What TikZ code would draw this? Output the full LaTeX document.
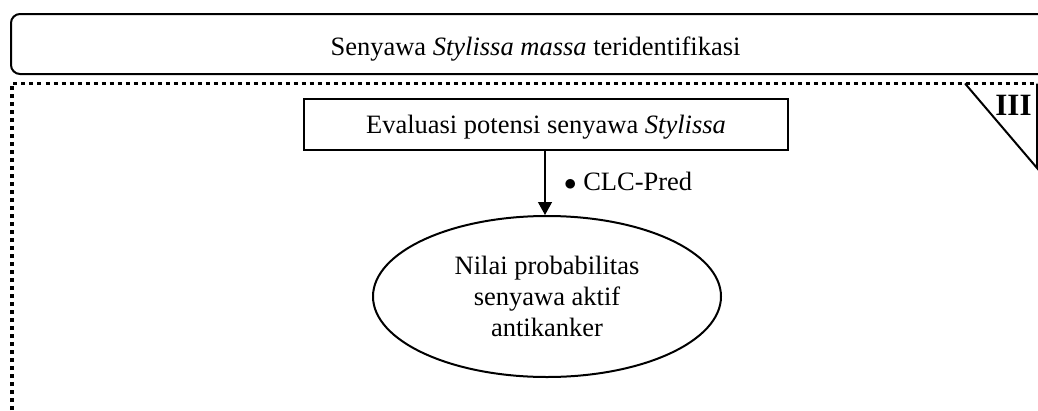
\documentclass[tikz,border=0pt]{standalone}
\usepackage{fontspec}
\setmainfont{Liberation Serif}
\usetikzlibrary{arrows.meta,shapes.geometric}

\tikzset{
  txt/.style={font=\fontsize{26.5}{31}\selectfont},
  headbox/.style={draw, line width=2pt, rounded corners=9pt, inner sep=0pt,
    minimum width=1049pt, minimum height=60pt, txt, text height=24pt, text depth=2pt},
  stepbox/.style={draw, line width=2.2pt, inner sep=0pt,
    minimum width=484pt, minimum height=51pt, txt, text height=20pt, text depth=3pt},
  resultell/.style={draw, ellipse, line width=2pt, inner sep=0pt,
    minimum width=348pt, minimum height=161pt, txt, align=center},
  frame/.style={line width=3.5pt, dash pattern=on 4pt off 4pt},
  flow/.style={line width=1.2pt, -{Triangle[length=13pt,width=14pt]}},
  tag/.style={font=\fontsize{31}{36}\selectfont\bfseries, inner sep=0pt},
}

\begin{document}
\begin{tikzpicture}[x=1pt,y=-1pt]
  \useasboundingbox (0,0) rectangle (1038,410);
  \clip (0,0) rectangle (1038,410);

  % stage frame (dotted) and its corner marker
  \draw[frame] (12,410) -- (12,83.5) -- (1045,83.5);
  \draw[line width=2pt, line join=miter] (965,83.5) -- (1037,168) -- (1037,83.5);
  \node[tag] (stage) at (1013.5,105.5) {III};

  % header spanning the full width
  \node[headbox] (head) at (535.5,44) {Senyawa \textit{Stylissa massa} teridentifikasi};

  % evaluation step and result
  \node[stepbox] (eval) at (546,124.5) {Evaluasi potensi senyawa \textit{Stylissa}};
  \node[resultell] (res) at (547,296.5) {Nilai probabilitas\\senyawa aktif\\antikanker};

  \draw[flow] (eval.south -| 545,0) -- (res.north -| 545,0);
  \node[txt, anchor=west, inner sep=0pt] (tool) at (564,181) {$\bullet$ CLC-Pred};
\end{tikzpicture}
\end{document}
